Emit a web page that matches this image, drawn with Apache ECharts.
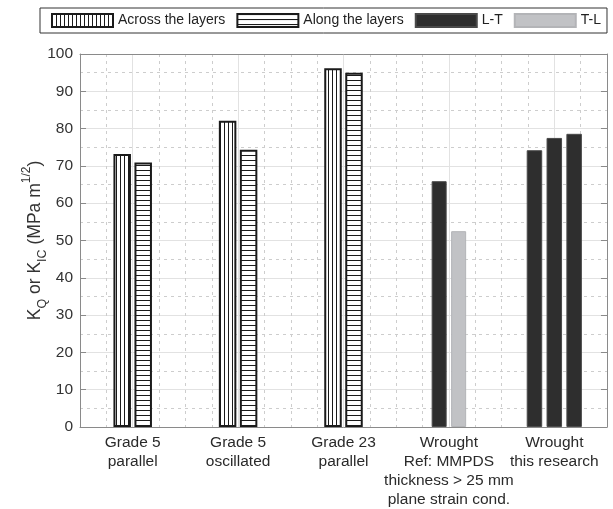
<!DOCTYPE html>
<html>
<head>
<meta charset="utf-8">
<script src="https://cdn.jsdelivr.net/npm/echarts@6/dist/echarts.min.js"></script>
<style>
    html, body { margin: 0; padding: 0; background: #fff; }
    #chart { width: 613px; height: 509px; }
</style>
</head>
<body>
<div id="chart"></div>
<script>
const categories = [
    'Grade 5\nparallel',
    'Grade 5\noscillated',
    'Grade 23\nparallel',
    'Wrought\nRef: MMPDS\nthickness > 25 mm\nplane strain cond.',
    'Wrought\nthis research'
];
const acrossLayers = [73.2, 82.1, 96.2, null, null];
const alongLayers = [70.9, 74.3, 95.0, null, null];
const refLT = [null, null, null, 65.9, null];
const refTL = [null, null, null, 52.5, null];
const thisResearchLT = [74.2, 77.5, 78.6];
const legendNames = ['Across the layers', 'Along the layers', 'L-T', 'T-L'];

// quarter-category slots used only for the vertical grid
const gridSlots = [];
for (let i = 0; i <= 20; i++) gridSlots.push(String(i));

function makeHatch(vertical) {
    let c = document.createElement('canvas');
    let size = vertical ? 4 : 5;
    c.width = size;
    c.height = size;
    let ctx = c.getContext('2d');
    ctx.fillStyle = '#fff';
    ctx.fillRect(0, 0, size, size);
    ctx.fillStyle = '#1a1a1a';
    if (vertical) ctx.fillRect(0, 0, 1, size);
    else ctx.fillRect(0, 0, size, 1);
    return { image: c, repeat: 'repeat' };
}

const hatchedBar = {
    type: 'bar',
    xAxisIndex: 0,
    barWidth: 17.5,
    barGap: '20%',
    emphasis: { disabled: true }
};

const solidBar = {
    type: 'bar',
    barWidth: 15,
    barGap: '30%',
    emphasis: { disabled: true }
};

const darkStyle = { color: '#2e2e2e', borderColor: '#4a4a4a', borderWidth: 1 };

function createChart() {
    let chartDom = document.getElementById('chart');
    let myChart = echarts.init(chartDom);

    let series = [
        {
            ...hatchedBar,
            name: 'Across the layers',
            data: acrossLayers,
            itemStyle: { color: makeHatch(true), borderColor: '#1a1a1a', borderWidth: 2 }
        },
        {
            ...hatchedBar,
            name: 'Along the layers',
            data: alongLayers,
            itemStyle: { color: makeHatch(false), borderColor: '#1a1a1a', borderWidth: 2 }
        },
        { ...solidBar, name: 'L-T', xAxisIndex: 1, data: refLT, itemStyle: darkStyle },
        {
            ...solidBar,
            name: 'T-L',
            xAxisIndex: 1,
            data: refTL,
            itemStyle: { color: '#c1c2c5', borderColor: '#b3b4b7', borderWidth: 1 }
        }
    ];
    for (let i = 0; i < thisResearchLT.length; i++) {
        let data = [null, null, null, null, thisResearchLT[i]];
        series.push({
            ...solidBar,
            name: 'L-T',
            xAxisIndex: 2,
            barWidth: 15.5,
            barGap: '28%',
            data,
            itemStyle: darkStyle
        });
    }

    let axisGray = '#8a8a8a';

    let option = {
        animation: false,
        textStyle: { fontFamily: 'Liberation Sans, Arial, sans-serif' },
        legend: {
            left: 40,
            top: 8,
            width: 570,
            itemWidth: 61,
            itemHeight: 13,
            itemGap: 11,
            padding: [5, 6, 5, 11],
            borderColor: '#333',
            borderWidth: 1,
            icon: 'rect',
            selectedMode: false,
            textStyle: { fontSize: 14, color: '#222' },
            data: legendNames
        },
        grid: { left: 80, right: 6, top: 54, bottom: 82 },
        xAxis: [
            {
                type: 'category',
                data: categories,
                position: 'bottom',
                axisLine: { lineStyle: { color: axisGray } },
                axisTick: { inside: true, alignWithLabel: true, length: 6, lineStyle: { color: '#333' } },
                axisLabel: { interval: 0, fontSize: 15.5, color: '#2a2a2a', lineHeight: 19, margin: 6 },
                splitLine: { show: false }
            },
            { type: 'category', data: categories, show: false },
            { type: 'category', data: categories, show: false },
            {
                type: 'category',
                data: categories,
                position: 'top',
                axisLine: { lineStyle: { color: axisGray } },
                axisTick: { inside: true, alignWithLabel: true, length: 6, lineStyle: { color: '#555' } },
                axisLabel: { show: false },
                splitLine: { show: false }
            },
            {
                type: 'category',
                data: gridSlots,
                boundaryGap: false,
                position: 'bottom',
                axisLine: { show: false },
                axisTick: { show: false },
                axisLabel: { show: false },
                splitLine: {
                    show: true,
                    interval: (i) => i % 4 === 2,
                    lineStyle: { color: '#e2e2e2', width: 1 }
                }
            },
            {
                type: 'category',
                data: gridSlots,
                boundaryGap: false,
                position: 'bottom',
                axisLine: { show: false },
                axisTick: { show: false },
                axisLabel: { show: false },
                splitLine: {
                    show: true,
                    interval: (i) => i % 4 !== 2 && i > 0 && i < 20,
                    lineStyle: { color: '#cdcdcd', width: 1, type: [3, 4] }
                }
            }
        ],
        yAxis: [
            {
                type: 'value',
                min: 0,
                max: 100,
                interval: 10,
                position: 'left',
                name: '{m|K}{s|Q}{m| or K}{s|IC}{m| (MPa m}{p|1/2}{m|)}',
                nameLocation: 'middle',
                nameGap: 31,
                nameMoveOverlap: false,
                nameTextStyle: {
                    rich: {
                        m: { fontSize: 17.5, color: '#333', lineHeight: 28 },
                        s: { fontSize: 12.5, color: '#333', verticalAlign: 'bottom' },
                        p: { fontSize: 12, color: '#333', verticalAlign: 'top' }
                    }
                },
                axisLine: { show: true, lineStyle: { color: axisGray } },
                axisTick: { show: true, inside: true, length: 6, lineStyle: { color: axisGray } },
                axisLabel: { fontSize: 15.5, color: '#333', margin: 7 },
                splitLine: { show: true, lineStyle: { color: '#e2e2e2', width: 1 } },
                minorTick: { show: false, splitNumber: 2 },
                minorSplitLine: { show: true, lineStyle: { color: '#cdcdcd', width: 1, type: [3, 4] } }
            },
            {
                type: 'value',
                min: 0,
                max: 100,
                interval: 10,
                position: 'right',
                axisLine: { show: true, lineStyle: { color: axisGray } },
                axisTick: { show: true, inside: true, length: 6, lineStyle: { color: axisGray } },
                axisLabel: { show: false },
                splitLine: { show: false }
            }
        ],
        series
    };

    option && myChart.setOption(option);
}

createChart();
</script>
</body>
</html>
